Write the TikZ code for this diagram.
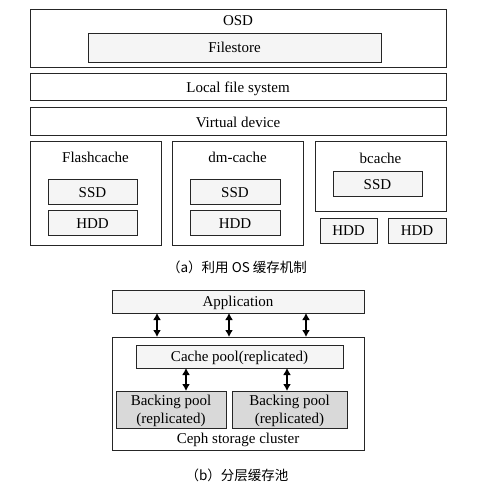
\documentclass[tikz,border=0pt]{standalone}
\usepackage{fontspec}
\setmainfont{Liberation Serif}
\newfontfamily\cjk{Noto Sans CJK SC}
\usetikzlibrary{arrows.meta}
\definecolor{lightfill}{HTML}{F5F5F5}
\definecolor{grayfill}{HTML}{D9D9D9}
\begin{document}
\begin{tikzpicture}[x=1pt,y=-1pt,
  box/.style={draw=black!85,line width=1pt},
  lbox/.style={box,fill=lightfill},
  gbox/.style={box,fill=grayfill},
  txt/.style={inner sep=0pt,anchor=base,font=\fontsize{15}{18}\selectfont},
  mtxt/.style={inner sep=0pt,align=center,font=\fontsize{15}{18}\selectfont},
  captxt/.style={inner sep=0pt,font=\cjk\fontsize{13.5}{16}\selectfont},
  dar/.style={{Latex[length=7pt,width=8pt]}-{Latex[length=7pt,width=8pt]},line width=1.4pt}]
\useasboundingbox (0,0) rectangle (500,486);
% (a)
\draw[box] (30,10) rectangle (446,68);
\node[txt] (osd) at (238,26) {OSD};
\draw[lbox] (88,34) rectangle (381,63);
\node[txt] (fs) at (234.5,53) {Filestore};
\draw[box] (30,74) rectangle (446,101);
\node[txt] (lfs) at (238,92.5) {Local file system};
\draw[box] (30,108) rectangle (446,136);
\node[txt] (vd) at (238,127.5) {Virtual device};
% flashcache
\draw[box] (30,142) rectangle (161,245);
\node[txt] (fc) at (95.5,162.5) {Flashcache};
\draw[lbox] (48,180) rectangle (137,205);
\node[txt] (fcs) at (92.5,197.5) {SSD};
\draw[lbox] (48,211) rectangle (137,236);
\node[txt] (fch) at (92.5,229) {HDD};
% dm-cache
\draw[box] (172,142) rectangle (303,245);
\node[txt] (dm) at (237.5,162.5) {dm-cache};
\draw[lbox] (190,180) rectangle (280,205);
\node[txt] (dms) at (235,197.5) {SSD};
\draw[lbox] (190,211) rectangle (280,236);
\node[txt] (dmh) at (235,229) {HDD};
% bcache
\draw[box] (315,142) rectangle (446,212);
\node[txt] (bc) at (380.5,164) {bcache};
\draw[lbox] (333,172) rectangle (422,197);
\node[txt] (bcs) at (377.5,189.5) {SSD};
\draw[lbox] (320,219) rectangle (377,243);
\node[txt] (bh1) at (348.5,236) {HDD};
\draw[lbox] (388,219) rectangle (446,243);
\node[txt] (bh2) at (417,236) {HDD};
\node[captxt] (capa) at (237,267) {（a）利用 OS 缓存机制};
% (b)
\draw[lbox] (112,290) rectangle (364,313);
\node[txt] (app) at (238,306) {Application};
\draw[box] (112,337) rectangle (364,450);
\draw[lbox] (136,345) rectangle (343,368);
\node[txt] (cp) at (239.5,361.5) {Cache pool(replicated)};
\draw[gbox] (116,391) rectangle (226,428);
\node[mtxt] (bp1) at (171,411) {Backing pool\\(replicated)};
\draw[gbox] (232,391) rectangle (347,428);
\node[mtxt] (bp2) at (289.5,411) {Backing pool\\(replicated)};
\node[txt] (ceph) at (238,443.5) {Ceph storage cluster};
\coordinate (a1t) at (157,313); \coordinate (a1b) at (157,337);
\coordinate (a2t) at (229,313); \coordinate (a2b) at (229,337);
\coordinate (a3t) at (306,313); \coordinate (a3b) at (306,337);
\coordinate (c1t) at (186,368); \coordinate (c1b) at (186,391);
\coordinate (c2t) at (287,368); \coordinate (c2b) at (287,391);
\draw[dar] (a1t) -- (a1b);
\draw[dar] (a2t) -- (a2b);
\draw[dar] (a3t) -- (a3b);
\draw[dar] (c1t) -- (c1b);
\draw[dar] (c2t) -- (c2b);
\node[captxt] (capb) at (237,475) {（b）分层缓存池};
\end{tikzpicture}
\end{document}
